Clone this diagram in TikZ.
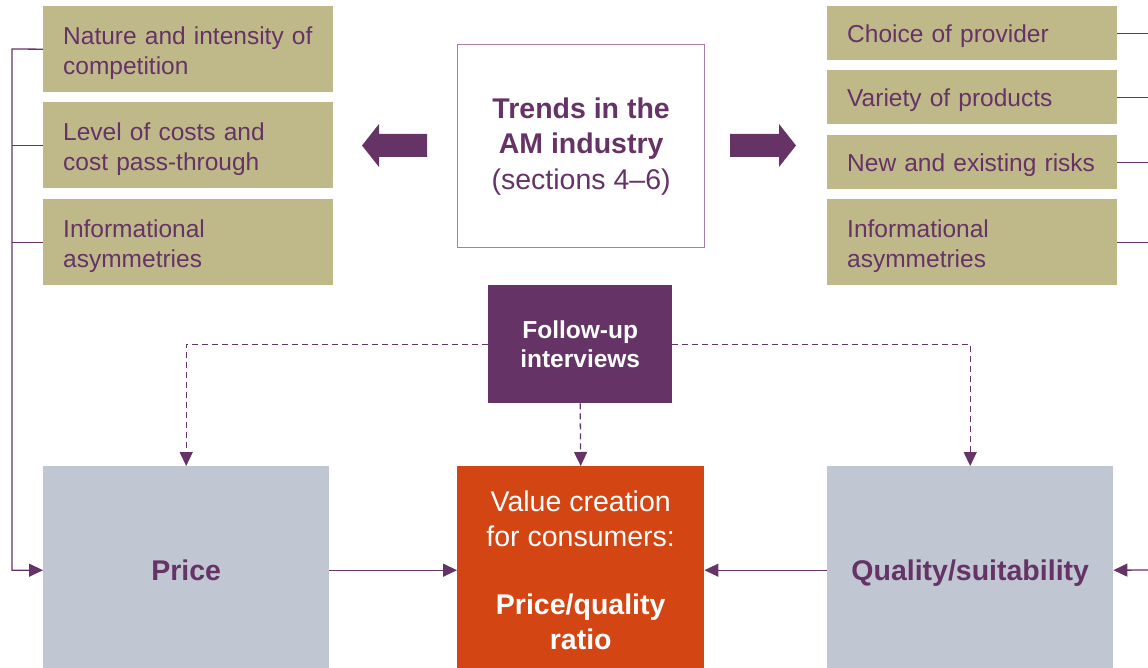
\documentclass[tikz,border=0pt]{standalone}
\usepackage{fontspec}
\setmainfont{Liberation Sans}
\usetikzlibrary{arrows.meta}
\definecolor{ampurple}{RGB}{102,51,102}
\definecolor{amkhaki}{RGB}{191,185,138}
\definecolor{amgrey}{RGB}{192,198,210}
\definecolor{amorange}{RGB}{212,69,20}
\definecolor{amframe}{RGB}{165,125,165}

\begin{document}
\begin{tikzpicture}[x=1pt, y=-1pt,
  factor/.style={fill=amkhaki, text=ampurple, anchor=north west, minimum width=290pt,
                 text width=250pt, inner xsep=20pt, inner ysep=0pt, align=left,
                 font=\fontsize{24.5}{30}\selectfont},
  oneline/.style={factor, minimum height=54pt, text depth=0pt},
  twoline/.style={factor, minimum height=86pt, text depth=27pt},
  outcome/.style={anchor=north west, minimum height=208pt, inner sep=0pt, align=center,
                  font=\fontsize{28.5}{35.5}\selectfont},
  line/.style={draw=ampurple, line width=1.3pt},
  link/.style={line, -{Triangle[width=13pt,length=14pt]}},
  dlink/.style={link, dash pattern=on 6pt off 4pt}
]
  \useasboundingbox (0,0) rectangle (1148,668);
  \clip (0,0) rectangle (1148,668);

  % supply side factors
  \node[twoline] (comp)  at (43,6)   {Nature and intensity of\\competition};
  \node[twoline] (costs) at (43,102) {Level of costs and\\cost pass-through};
  \node[twoline] (infol) at (43,199) {Informational\\asymmetries};

  % demand side factors
  \node[oneline] (choice)  at (827,6)   {Choice of provider};
  \node[oneline] (variety) at (827,70)  {Variety of products};
  \node[oneline] (risks)   at (827,135) {New and existing risks};
  \node[twoline] (infor)   at (827,199) {Informational\\asymmetries};

  \node[draw=amframe, line width=1.3pt, fill=white, text=ampurple, anchor=north west,
        minimum width=247pt, minimum height=203pt, align=center,
        font=\fontsize{28.5}{35.5}\selectfont] (trends) at (457,44)
        {\textbf{Trends in the}\\\textbf{AM industry}\\(sections 4--6)};

  \fill[ampurple] (427,134) -- (379,134) -- (379,124) -- (362,145.5)
                  -- (379,167) -- (379,157) -- (427,157) -- cycle;
  \fill[ampurple] (730,134) -- (779,134) -- (779,124) -- (796,145.5)
                  -- (779,167) -- (779,157) -- (730,157) -- cycle;

  \node[fill=ampurple, text=white, anchor=north west, minimum width=184pt,
        minimum height=118pt, align=center,
        font=\fontsize{24.5}{29}\selectfont\bfseries] (follow) at (488,285)
        {Follow-up\\interviews};

  \node[outcome, fill=amgrey, text=ampurple, minimum width=286pt] (price) at (43,466)
        {\textbf{Price}};
  \node[outcome, fill=amorange, text=white, minimum width=247pt] (value) at (457,466)
        {Value creation\\for consumers:\\[32pt]\textbf{Price/quality}\\\textbf{ratio}};
  \node[outcome, fill=amgrey, text=ampurple, minimum width=286pt, text depth=0pt] (quality) at (827,466)
        {\textbf{Quality/suitability}};

  \coordinate (lbus) at (12,49);
  \coordinate (rbus) at (1148,570);

  \draw[link] (comp.west) -- (lbus) |- (price.west);
  \draw[line] (costs.west) -- (costs.west -| lbus);
  \draw[line] (infol.west) -- (infol.west -| lbus);

  \draw[line] (choice.east) -- (choice.east -| rbus);
  \draw[line] (variety.east) -- (variety.east -| rbus);
  \draw[line] (risks.east) -- (risks.east -| rbus);
  \draw[line] (infor.east) -- (infor.east -| rbus);
  \draw[link] (rbus) -- (quality.east);

  \draw[link] (price.east) -- (value.west);
  \draw[link] (quality.west) -- (value.east);

  \draw[dlink] (follow.west) -| (price.north);
  \draw[dlink] (follow.east) -| (quality.north);
  \draw[dlink] (follow.south) -- (value.north);
\end{tikzpicture}
\end{document}
